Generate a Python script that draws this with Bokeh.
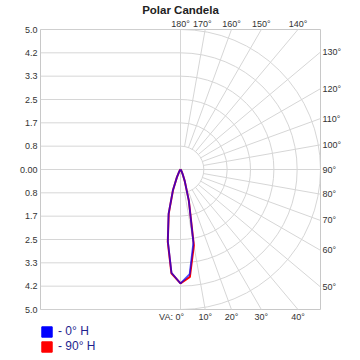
import math
import numpy as np
from bokeh.plotting import figure
from bokeh.layouts import column
from bokeh.models import (FixedTicker, CustomJSTickFormatter, LinearAxis,
                          Legend, LegendItem, Range1d, ColumnDataSource)
from bokeh.embed import file_html
from bokeh.resources import INLINE

# ---- data ----
title = "Polar Candela"
angles = [0, 5, 10, 15, 20, 25, 30, 35, 40, 45, 50, 55, 60, 65, 70, 75, 80, 85, 90]
blue_right = [4.07, 3.75, 2.65, 1.15, 0.45, 0.18, 0.08, 0.04, 0.02, 0.01, 0.01, 0, 0, 0, 0, 0, 0, 0, 0]
blue_left = [4.07, 3.70, 2.60, 1.65, 0.80, 0.30, 0.10, 0.05, 0.02, 0.01, 0.01, 0, 0, 0, 0, 0, 0, 0, 0]
red_right = [4.07, 3.85, 2.75, 1.15, 0.45, 0.18, 0.08, 0.04, 0.02, 0.01, 0.01, 0, 0, 0, 0, 0, 0, 0, 0]
red_left = [4.07, 3.72, 2.62, 1.62, 0.78, 0.30, 0.10, 0.05, 0.02, 0.01, 0.01, 0, 0, 0, 0, 0, 0, 0, 0]
series_names = ["- 0\u00b0 H", "- 90\u00b0 H"]
series_colors = ["#0000ff", "#ff0000"]

rmax = 5.0
ring_values = [5.0 / 6 * k for k in range(1, 7)]
spoke_angles = [10, 20, 30, 40, 50, 60, 70, 80, 90, 100, 110, 120, 130, 140, 150, 160, 170]
top_angles = [180, 170, 160, 150, 140]
right_angles = [50, 60, 70, 80, 90, 100, 110, 120, 130]
bottom_angles = [0, 10, 20, 30, 40]
top_labels = ["180\u00b0", "170\u00b0", "160\u00b0", "150\u00b0", "140\u00b0"]
right_labels = ["50\u00b0", "60\u00b0", "70\u00b0", "80\u00b0", "90\u00b0", "100\u00b0", "110\u00b0", "120\u00b0", "130\u00b0"]
bottom_labels = ["VA: 0\u00b0", "10\u00b0", "20\u00b0", "30\u00b0", "40\u00b0"]

FONT = "Liberation Sans"
GRID = "#d6d6d6"
TXT = "#333333"

MAIN_H = 324
p = figure(width=360, height=MAIN_H, output_backend="svg", toolbar_location=None,
           x_range=Range1d(-rmax, rmax), y_range=Range1d(-rmax, rmax),
           min_border_left=40, min_border_right=40, min_border_top=29,
           min_border_bottom=MAIN_H - 29 - 280, title=title)
p.title.align = "center"
p.title.text_font = FONT
p.title.text_font_size = "11.5px"
p.title.text_font_style = "bold"
p.title.text_color = "#222222"
p.title.standoff = 0
p.title.offset = 0
p.xaxis.visible = False
p.grid.visible = False
p.outline_line_color = "#c8c8c8"
p.background_fill_color = "white"


def style_axis(ax, standoff):
    ax.axis_line_color = None
    ax.major_tick_line_color = None
    ax.minor_tick_line_color = None
    ax.major_tick_out = 0
    ax.major_tick_in = 0
    ax.minor_tick_out = 0
    ax.minor_tick_in = 0
    ax.major_label_text_font = FONT
    ax.major_label_text_font_size = "9px"
    ax.major_label_text_color = TXT
    ax.major_label_standoff = standoff


# left y axis (absolute candela values)
yticks = [-v for v in ring_values[::-1]] + [0.0] + ring_values
yax = p.yaxis[0]
yax.ticker = FixedTicker(ticks=yticks)
yax.formatter = CustomJSTickFormatter(code="""
if (Math.abs(tick) < 1e-9) { return "0.00"; }
return Math.abs(tick).toFixed(1);
""")
style_axis(yax, 3)

# left cartesian grid
p.segment(x0=[-rmax] * len(yticks), y0=yticks, x1=[0] * len(yticks), y1=yticks,
          line_color=GRID, line_width=1)
p.segment(x0=[0], y0=[-rmax], x1=[0], y1=[rmax], line_color=GRID, line_width=1)
p.segment(x0=[0], y0=[0], x1=[rmax], y1=[0], line_color=GRID, line_width=1)

# polar rings (right half)
p.arc(x=0, y=0, radius=ring_values, start_angle=-math.pi / 2, end_angle=math.pi / 2,
      line_color=GRID, line_width=1)
# spokes from the inner ring outward (VA measured from straight down)
r0 = ring_values[0]
sx = [r0 * math.sin(math.radians(a)) for a in spoke_angles]
sy = [-r0 * math.cos(math.radians(a)) for a in spoke_angles]
sang = [math.radians(a) - math.pi / 2 for a in spoke_angles]
p.ray(x=sx, y=sy, angle=sang, length=0, line_color=GRID, line_width=1)


# curves
def path(left, right):
    xs, ys = [], []
    for a, r in zip(angles[::-1], left[::-1]):
        xs.append(-r * math.sin(math.radians(a)))
        ys.append(-r * math.cos(math.radians(a)))
    for a, r in zip(angles[1:], right[1:]):
        xs.append(r * math.sin(math.radians(a)))
        ys.append(-r * math.cos(math.radians(a)))
    return xs, ys


rx, ry = path(red_left, red_right)
bx, by = path(blue_left, blue_right)
p.line(rx, ry, line_color=series_colors[1], line_width=2)
p.line(bx, by, line_color=series_colors[0], line_width=1.8, line_alpha=0.7)

# angle label axes
top_pos = [rmax * math.tan(math.radians(180 - a)) for a in top_angles]
top_pos[1] -= 0.1
right_pos = [-rmax * math.cos(math.radians(a)) / math.sin(math.radians(a)) for a in right_angles]
bottom_pos = [rmax * math.tan(math.radians(a)) for a in bottom_angles]
bottom_pos[0] -= 0.32


def label_axis(ticks, labels, standoff):
    ax = LinearAxis(ticker=FixedTicker(ticks=ticks),
                    formatter=CustomJSTickFormatter(args=dict(labels=labels),
                                                    code="return labels[index];"))
    style_axis(ax, standoff)
    return ax


p.add_layout(label_axis(top_pos, top_labels, 1), "above")
p.add_layout(label_axis(right_pos, right_labels, 2), "right")
p.add_layout(label_axis(bottom_pos, bottom_labels, 2), "below")

# legend in a small companion figure below
lf = figure(width=360, height=360 - MAIN_H, output_backend="svg", toolbar_location=None,
            x_range=Range1d(0, 1), y_range=Range1d(0, 1),
            min_border_left=38, min_border_right=0, min_border_top=0, min_border_bottom=0)
lf.axis.visible = False
lf.grid.visible = False
lf.outline_line_color = None
nodata = ColumnDataSource(dict(l=np.array([np.nan]), r=np.array([np.nan]),
                               t=np.array([np.nan]), b=np.array([np.nan])))
q_blue = lf.quad(left="l", right="r", top="t", bottom="b", source=nodata,
                 fill_color=series_colors[0], line_color=series_colors[0])
q_red = lf.quad(left="l", right="r", top="t", bottom="b", source=nodata,
                fill_color=series_colors[1], line_color=series_colors[1])
legend = Legend(items=[LegendItem(label=series_names[0], renderers=[q_blue]),
                       LegendItem(label=series_names[1], renderers=[q_red])],
                location="top_left", orientation="vertical",
                glyph_width=13, glyph_height=13, label_height=13, label_standoff=5,
                spacing=1, padding=0, margin=0,
                border_line_color=None, background_fill_alpha=0,
                label_text_font=FONT, label_text_font_size="12px",
                label_text_color="#1f1f8f")
lf.add_layout(legend, "center")

layout = column(p, lf, spacing=0)
open("out.html", "w").write(file_html(layout, INLINE))
